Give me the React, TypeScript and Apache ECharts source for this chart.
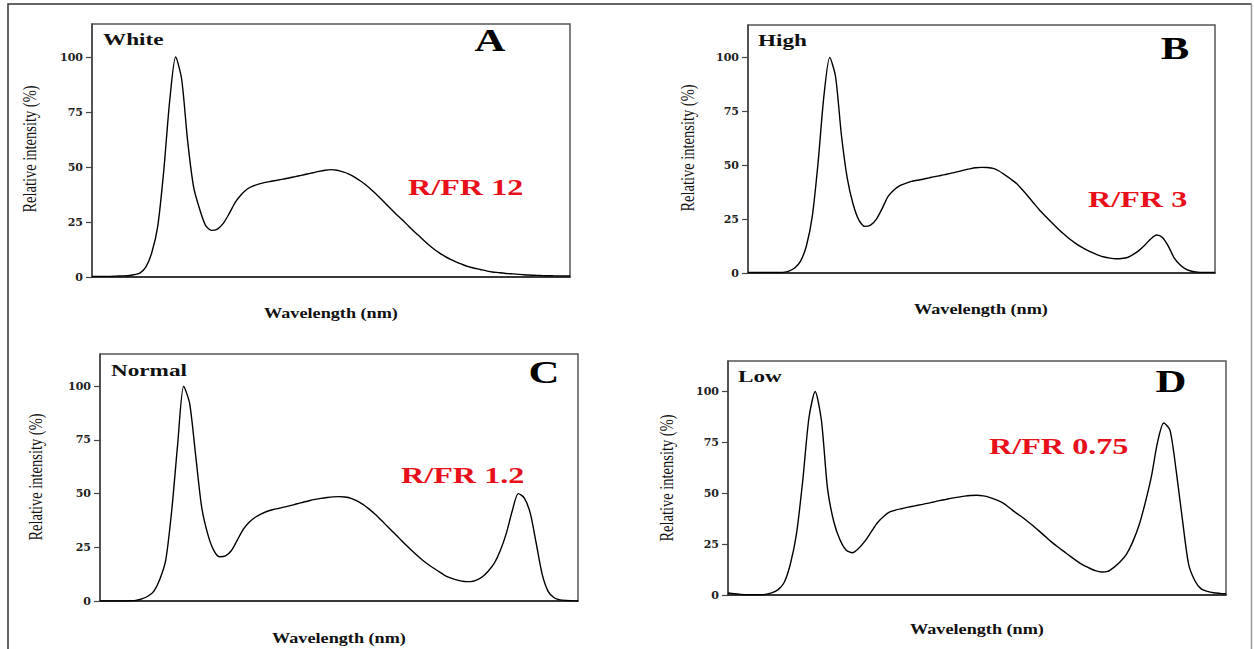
import React, { useEffect, useRef } from 'react';
import * as echarts from 'echarts';

// ---------- data (wavelength grid, nm, 5 nm step) ----------
const wavelengths = [
  380, 385, 390, 395, 400, 405, 410, 415, 420, 425, 430, 435, 440, 445, 450, 455, 460, 465, 470, 475,
  480, 485, 490, 495, 500, 505, 510, 515, 520, 525, 530, 535, 540, 545, 550, 555, 560, 565, 570, 575,
  580, 585, 590, 595, 600, 605, 610, 615, 620, 625, 630, 635, 640, 645, 650, 655, 660, 665, 670, 675,
  680, 685, 690, 695, 700, 705, 710, 715, 720, 725, 730, 735, 740, 745, 750, 755, 760, 765, 770, 775, 780,
];

const whiteSpectrum = [
  0.3, 0.3, 0.3, 0.3, 0.4, 0.5, 0.6, 1.0,
  1.8, 4.5, 11, 23, 48, 80, 100, 90, 62, 41, 31, 23.5, 21.2, 21.8, 24.5, 29, 34,
  37.5, 40, 41.4, 42.3, 43, 43.5, 44, 44.5, 45, 45.6, 46.2, 46.8, 47.4, 48, 48.5, 48.8, 48.5, 47.8, 46.8, 45.3,
  43.5, 41.5, 39.1, 36.5, 33.8, 31, 28.3, 25.8, 23.1, 20.5, 18, 15.5, 13.2, 11.2, 9.5,
  8, 6.8, 5.7, 4.7, 4.0, 3.4, 2.8, 2.3, 2.0, 1.7, 1.5, 1.3, 1.1, 0.9, 0.8, 0.7, 0.6,
  0.55, 0.5, 0.5, 0.5,
];

const highSpectrum = [
  0.2, 0.2, 0.2, 0.2, 0.2, 0.2, 0.3, 0.9,
  2.3, 5.5, 12.5, 26, 51, 82, 100, 91, 64, 44, 32, 24.5, 21.6, 22.2, 25, 30, 35.5,
  38.5, 40.5, 41.6, 42.5, 43, 43.5, 44.1, 44.7, 45.2, 45.8, 46.4, 47, 47.7, 48.3, 48.8, 49, 48.9, 48.5, 47.3, 45.5,
  43.6, 41.5, 38.6, 35.5, 32.2, 29, 26.2, 23.5, 20.8, 18.3, 16, 14, 12.2, 10.7, 9.4,
  8.3, 7.4, 6.9, 6.6, 6.7, 7.2, 8.6, 10.5, 13, 15.8, 17.6, 16.5, 12.5, 7, 3.8, 1.8, 0.8,
  0.4, 0.3, 0.3, 0.3,
];

const normalSpectrum = [
  0, 0, 0, 0, 0, 0.1, 0.3, 1.0,
  2.2, 4.5, 10, 19, 42, 73, 100, 92, 68, 44, 31.5, 23.8, 20.6, 21, 23.5, 28.5, 33.5,
  36.8, 39, 40.6, 41.8, 42.6, 43.2, 43.8, 44.5, 45.3, 46, 46.7, 47.3, 47.8, 48.2, 48.5, 48.6, 48.4, 47.8, 46.6, 45,
  42.9, 40.5, 37.8, 35, 32.2, 29.5, 26.7, 24, 21.4, 19, 16.9, 15, 13.2, 11.5, 10.4,
  9.6, 9.1, 9, 9.7, 11.3, 14, 17.6, 23.5, 31.5, 42, 50, 48, 41, 27, 12.5, 4.5, 1.5,
  0.5, 0.2, 0.1, 0,
];

const lowSpectrum = [
  1, 0.6, 0.3, 0.1, 0.1, 0.1, 0.3, 1.0,
  2.5, 6, 15, 30, 56, 87, 100, 86, 52, 36, 27, 22, 20.8, 23, 26.5, 31, 35.5,
  38.6, 40.8, 41.8, 42.5, 43.2, 43.8, 44.4, 45, 45.7, 46.4, 47, 47.6, 48.1, 48.6, 48.9, 49, 48.7, 48, 46.9, 45.5,
  43.4, 41, 38.8, 36.5, 34, 31.4, 28.7, 26, 23.6, 21.3, 19, 16.8, 14.8, 13.3, 12,
  11.3, 11.6, 13.6, 16.3, 20, 26, 34, 45, 58, 75, 84.5, 81, 61, 37, 15, 7, 3,
  1.8, 1.1, 0.8, 0.6,
];

const yTicks = [0, 25, 50, 75, 100];
const panelTitles = ['White', 'High', 'Normal', 'Low'];
const panelLetters = ['A', 'B', 'C', 'D'];
const ratioLabels = ['R/FR 12', 'R/FR 3', 'R/FR 1.2', 'R/FR 0.75'];
const xAxisTitle = 'Wavelength (nm)';
const yAxisTitle = 'Relative intensity (%)';

const spectra = [whiteSpectrum, highSpectrum, normalSpectrum, lowSpectrum];

// ---------- layout ----------
const grids = [
  { left: 92, top: 24, width: 478, height: 253 },
  { left: 748, top: 25, width: 467, height: 248 },
  { left: 100, top: 354, width: 478, height: 247 },
  { left: 728, top: 361, width: 498, height: 234 },
];
const titlePos = [
  [103, 39.5],
  [758, 40],
  [111, 370.5],
  [738, 376],
];
const letterPos = [
  [490, 41],
  [1175, 49],
  [544, 373],
  [1171, 382],
];
const ratioPos = [
  [408, 187],
  [1088, 199.5],
  [401, 475.5],
  [989, 446.5],
];
const xTitlePos = [
  [331, 313.5],
  [981, 310],
  [339, 639],
  [977, 630],
];
const yTitlePos = [
  [30, 149],
  [688, 148],
  [36, 477],
  [667, 478],
];

const SERIF = "'Liberation Serif', 'Times New Roman', serif";

function txt(text: string, x: number, y: number, o: any) {
  const align = o.align || 'left';
  const va = o.va || 'middle';
  return {
    type: 'text',
    x,
    y,
    scaleX: o.sx || 1,
    scaleY: o.sy || 1,
    rotation: o.rot || 0,
    silent: true,
    z: 10,
    style: {
      text,
      fill: o.fill || '#111',
      fontSize: o.size,
      fontWeight: o.weight || 'bold',
      fontFamily: o.family || SERIF,
      align,
      verticalAlign: va,
      textAlign: align,
      textVerticalAlign: va,
    },
  };
}

export default function App() {
  const ref = useRef<HTMLDivElement>(null);

  useEffect(() => {
    if (!ref.current) return;
    const chart = echarts.init(ref.current, undefined, { renderer: 'svg' });

    const graphic: any[] = [];
    // outer frame
    graphic.push({
      type: 'polyline',
      silent: true,
      shape: { points: [[8, 660], [8, 4], [1251.5, 4]] },
      style: { stroke: '#333', lineWidth: 1.5, fill: null },
    });
    graphic.push({
      type: 'line',
      silent: true,
      shape: { x1: 1251.5, y1: 4, x2: 1251.5, y2: 660 },
      style: { stroke: '#999', lineWidth: 1.5 },
    });

    for (let i = 0; i < 4; i++) {
      graphic.push(txt(panelTitles[i], titlePos[i][0], titlePos[i][1], { size: 16, sx: 1.45 }));
      graphic.push(txt(panelLetters[i], letterPos[i][0], letterPos[i][1], { size: 31, sx: 1.38, align: 'center', fill: '#000' }));
      graphic.push(
        txt(ratioLabels[i], ratioPos[i][0], ratioPos[i][1], {
          size: 23,
          sx: 1.4,
          fill: '#e8101a',
        })
      );
      graphic.push(txt(xAxisTitle, xTitlePos[i][0], xTitlePos[i][1], { size: 14, sx: 1.3, align: 'center' }));
      graphic.push(
        txt(yAxisTitle, yTitlePos[i][0], yTitlePos[i][1], {
          size: 14.5,
          weight: 'normal',
          align: 'center',
          rot: Math.PI / 2,
          sy: 1.25,
        })
      );
    }

    const option: any = {
      animation: false,
      backgroundColor: '#fff',
      grid: grids.map((g) => ({
        ...g,
        show: true,
        borderColor: '#555',
        borderWidth: 1.5,
        backgroundColor: 'transparent',
        containLabel: false,
      })),
      xAxis: grids.map((_, i) => ({
        gridIndex: i,
        type: 'value',
        min: 380,
        max: 780,
        axisLine: { show: true, onZero: false, lineStyle: { color: '#222', width: 1.6 } },
        axisTick: { show: false },
        axisLabel: { show: false },
        splitLine: { show: false },
      })),
      yAxis: grids.map((_, i) => ({
        gridIndex: i,
        type: 'value',
        min: 0,
        max: 115,
        interval: 25,
        axisLine: { show: true, lineStyle: { color: '#444', width: 1.5 } },
        axisTick: {
          show: true,
          inside: false,
          length: 6,
          customValues: yTicks,
          lineStyle: { color: '#444', width: 1.2 },
        },
        axisLabel: {
          show: true,
          customValues: yTicks,
          margin: 9,
          fontFamily: "'DejaVu Serif', serif",
          fontWeight: 'bold',
          fontSize: 11,
          color: '#222',
          formatter: (v: number) => (v % 25 === 0 && v <= 100 ? String(v) : ''),
        },
        splitLine: { show: false },
      })),
      series: spectra.map((arr, i) => ({
        type: 'line',
        xAxisIndex: i,
        yAxisIndex: i,
        data: wavelengths.map((w, k) => [w, arr[k]]),
        showSymbol: false,
        smooth: 0.25,
        silent: true,
        lineStyle: { color: '#000', width: 1.4 },
      })),
      graphic,
    };

    chart.setOption(option);
    return () => {
      chart.dispose();
    };
  }, []);

  return (
    <div
      ref={ref}
      style={{ position: 'fixed', left: 0, top: 0, width: 1254, height: 649, background: '#fff' }}
    />
  );
}
